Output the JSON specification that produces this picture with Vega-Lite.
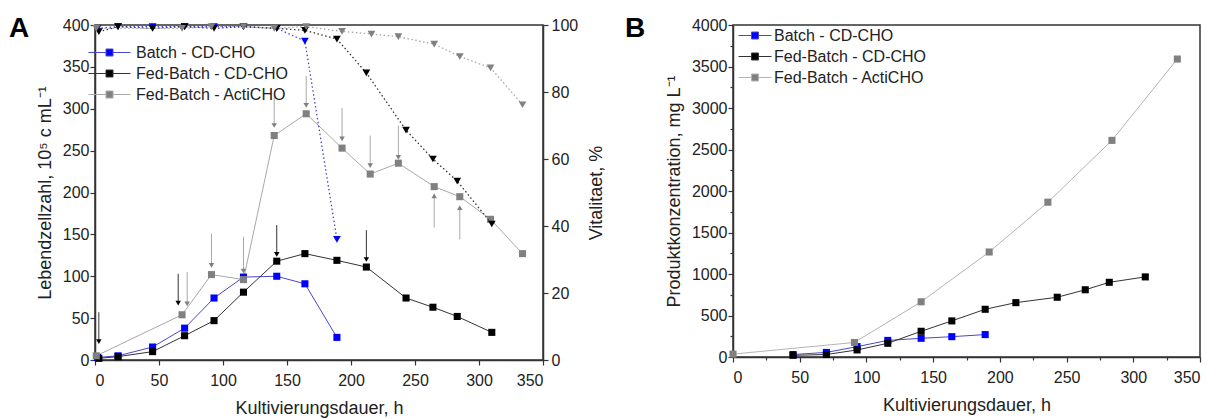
{
  "$schema": "https://vega.github.io/schema/vega-lite/v6.json",
  "background": "white",
  "padding": {"left": 8, "top": 14, "right": 0, "bottom": 0},
  "config": {
    "font": "Liberation Sans",
    "view": {"stroke": "#333", "strokeWidth": 1.5},
    "axis": {"labelFont": "Liberation Sans", "labelFontSize": 16, "labelColor": "#222", "titleFont": "Liberation Sans", "titleFontSize": 18, "titleFontWeight": "normal", "titleColor": "#222", "domainColor": "#333", "domainWidth": 1.5, "tickColor": "#333", "tickWidth": 1.2, "grid": false, "labelPadding": 1, "format": "d"},
    "axisX": {"labelPadding": 7},
    "title": {"font": "Liberation Sans", "fontSize": 28, "fontWeight": "bold", "color": "#000", "anchor": "start", "frame": "group"}
  },
  "datasets": {
    "cells": [
      {"t": 2, "v": 3, "series": "Batch - CD-CHO"},
      {"t": 18, "v": 5, "series": "Batch - CD-CHO"},
      {"t": 45, "v": 15.5, "series": "Batch - CD-CHO"},
      {"t": 70, "v": 38, "series": "Batch - CD-CHO"},
      {"t": 93, "v": 74, "series": "Batch - CD-CHO"},
      {"t": 116, "v": 99, "series": "Batch - CD-CHO"},
      {"t": 142, "v": 100, "series": "Batch - CD-CHO"},
      {"t": 164, "v": 91, "series": "Batch - CD-CHO"},
      {"t": 189, "v": 27, "series": "Batch - CD-CHO"},
      {"t": 3, "v": 2, "series": "Fed-Batch - CD-CHO"},
      {"t": 18, "v": 4, "series": "Fed-Batch - CD-CHO"},
      {"t": 45, "v": 10, "series": "Fed-Batch - CD-CHO"},
      {"t": 70, "v": 29, "series": "Fed-Batch - CD-CHO"},
      {"t": 93, "v": 47, "series": "Fed-Batch - CD-CHO"},
      {"t": 116, "v": 81, "series": "Fed-Batch - CD-CHO"},
      {"t": 142, "v": 118, "series": "Fed-Batch - CD-CHO"},
      {"t": 164, "v": 127, "series": "Fed-Batch - CD-CHO"},
      {"t": 189, "v": 119, "series": "Fed-Batch - CD-CHO"},
      {"t": 212, "v": 111, "series": "Fed-Batch - CD-CHO"},
      {"t": 243, "v": 74, "series": "Fed-Batch - CD-CHO"},
      {"t": 264, "v": 63, "series": "Fed-Batch - CD-CHO"},
      {"t": 283, "v": 52, "series": "Fed-Batch - CD-CHO"},
      {"t": 310, "v": 33, "series": "Fed-Batch - CD-CHO"},
      {"t": 1, "v": 5, "series": "Fed-Batch - ActiCHO"},
      {"t": 68, "v": 54, "series": "Fed-Batch - ActiCHO"},
      {"t": 91, "v": 102, "series": "Fed-Batch - ActiCHO"},
      {"t": 116, "v": 96, "series": "Fed-Batch - ActiCHO"},
      {"t": 140, "v": 268, "series": "Fed-Batch - ActiCHO"},
      {"t": 165, "v": 294, "series": "Fed-Batch - ActiCHO"},
      {"t": 193, "v": 253, "series": "Fed-Batch - ActiCHO"},
      {"t": 215, "v": 222, "series": "Fed-Batch - ActiCHO"},
      {"t": 237, "v": 235, "series": "Fed-Batch - ActiCHO"},
      {"t": 265, "v": 207, "series": "Fed-Batch - ActiCHO"},
      {"t": 285, "v": 195, "series": "Fed-Batch - ActiCHO"},
      {"t": 309, "v": 168, "series": "Fed-Batch - ActiCHO"},
      {"t": 334, "v": 127, "series": "Fed-Batch - ActiCHO"}
    ],
    "vital": [
      {"t": 2, "p": 99, "series": "Batch - CD-CHO"},
      {"t": 18, "p": 99.5, "series": "Batch - CD-CHO"},
      {"t": 45, "p": 99.5, "series": "Batch - CD-CHO"},
      {"t": 70, "p": 99.5, "series": "Batch - CD-CHO"},
      {"t": 93, "p": 99.5, "series": "Batch - CD-CHO"},
      {"t": 116, "p": 99.5, "series": "Batch - CD-CHO"},
      {"t": 142, "p": 99, "series": "Batch - CD-CHO"},
      {"t": 164, "p": 95.2, "series": "Batch - CD-CHO"},
      {"t": 189, "p": 36, "series": "Batch - CD-CHO"},
      {"t": 3, "p": 98, "series": "Fed-Batch - CD-CHO"},
      {"t": 18, "p": 99.5, "series": "Fed-Batch - CD-CHO"},
      {"t": 45, "p": 99, "series": "Fed-Batch - CD-CHO"},
      {"t": 70, "p": 99.5, "series": "Fed-Batch - CD-CHO"},
      {"t": 93, "p": 99, "series": "Fed-Batch - CD-CHO"},
      {"t": 116, "p": 99.5, "series": "Fed-Batch - CD-CHO"},
      {"t": 142, "p": 99, "series": "Fed-Batch - CD-CHO"},
      {"t": 164, "p": 98.4, "series": "Fed-Batch - CD-CHO"},
      {"t": 189, "p": 95.8, "series": "Fed-Batch - CD-CHO"},
      {"t": 212, "p": 85.7, "series": "Fed-Batch - CD-CHO"},
      {"t": 243, "p": 68.6, "series": "Fed-Batch - CD-CHO"},
      {"t": 264, "p": 60, "series": "Fed-Batch - CD-CHO"},
      {"t": 283, "p": 53.4, "series": "Fed-Batch - CD-CHO"},
      {"t": 310, "p": 40.6, "series": "Fed-Batch - CD-CHO"},
      {"t": 1, "p": 99, "series": "Fed-Batch - ActiCHO"},
      {"t": 68, "p": 99, "series": "Fed-Batch - ActiCHO"},
      {"t": 91, "p": 99.5, "series": "Fed-Batch - ActiCHO"},
      {"t": 116, "p": 99.5, "series": "Fed-Batch - ActiCHO"},
      {"t": 140, "p": 99, "series": "Fed-Batch - ActiCHO"},
      {"t": 165, "p": 99.5, "series": "Fed-Batch - ActiCHO"},
      {"t": 193, "p": 98.1, "series": "Fed-Batch - ActiCHO"},
      {"t": 216, "p": 97.3, "series": "Fed-Batch - ActiCHO"},
      {"t": 237, "p": 96.5, "series": "Fed-Batch - ActiCHO"},
      {"t": 265, "p": 94.3, "series": "Fed-Batch - ActiCHO"},
      {"t": 285, "p": 90.6, "series": "Fed-Batch - ActiCHO"},
      {"t": 309, "p": 87.2, "series": "Fed-Batch - ActiCHO"},
      {"t": 334, "p": 76.2, "series": "Fed-Batch - ActiCHO"}
    ],
    "arrows": [
      {"t": 3, "v1": 57, "v2": 22, "dir": "down", "series": "Fed-Batch - CD-CHO"},
      {"t": 65, "v1": 103, "v2": 68, "dir": "down", "series": "Fed-Batch - CD-CHO"},
      {"t": 142, "v1": 161, "v2": 126, "dir": "down", "series": "Fed-Batch - CD-CHO"},
      {"t": 212, "v1": 155, "v2": 120, "dir": "down", "series": "Fed-Batch - CD-CHO"},
      {"t": 72, "v1": 105, "v2": 67, "dir": "down", "series": "Fed-Batch - ActiCHO"},
      {"t": 91, "v1": 151, "v2": 113, "dir": "down", "series": "Fed-Batch - ActiCHO"},
      {"t": 116, "v1": 147, "v2": 106, "dir": "down", "series": "Fed-Batch - ActiCHO"},
      {"t": 140, "v1": 315, "v2": 280, "dir": "down", "series": "Fed-Batch - ActiCHO"},
      {"t": 165, "v1": 339, "v2": 304, "dir": "down", "series": "Fed-Batch - ActiCHO"},
      {"t": 193, "v1": 301, "v2": 264, "dir": "down", "series": "Fed-Batch - ActiCHO"},
      {"t": 215, "v1": 268, "v2": 232, "dir": "down", "series": "Fed-Batch - ActiCHO"},
      {"t": 237, "v1": 280, "v2": 242, "dir": "down", "series": "Fed-Batch - ActiCHO"},
      {"t": 265, "v1": 158, "v2": 196, "dir": "up", "series": "Fed-Batch - ActiCHO"},
      {"t": 285, "v1": 144, "v2": 182, "dir": "up", "series": "Fed-Batch - ActiCHO"}
    ],
    "product": [
      {"t": 45, "c": 30, "series": "Batch - CD-CHO"},
      {"t": 70, "c": 55, "series": "Batch - CD-CHO"},
      {"t": 93, "c": 125, "series": "Batch - CD-CHO"},
      {"t": 116, "c": 200, "series": "Batch - CD-CHO"},
      {"t": 141, "c": 225, "series": "Batch - CD-CHO"},
      {"t": 164, "c": 245, "series": "Batch - CD-CHO"},
      {"t": 189, "c": 270, "series": "Batch - CD-CHO"},
      {"t": 45, "c": 20, "series": "Fed-Batch - CD-CHO"},
      {"t": 70, "c": 30, "series": "Fed-Batch - CD-CHO"},
      {"t": 93, "c": 85, "series": "Fed-Batch - CD-CHO"},
      {"t": 116, "c": 165, "series": "Fed-Batch - CD-CHO"},
      {"t": 141, "c": 310, "series": "Fed-Batch - CD-CHO"},
      {"t": 164, "c": 435, "series": "Fed-Batch - CD-CHO"},
      {"t": 189, "c": 575, "series": "Fed-Batch - CD-CHO"},
      {"t": 212, "c": 655, "series": "Fed-Batch - CD-CHO"},
      {"t": 243, "c": 720, "series": "Fed-Batch - CD-CHO"},
      {"t": 264, "c": 810, "series": "Fed-Batch - CD-CHO"},
      {"t": 282, "c": 900, "series": "Fed-Batch - CD-CHO"},
      {"t": 309, "c": 965, "series": "Fed-Batch - CD-CHO"},
      {"t": 0, "c": 35, "series": "Fed-Batch - ActiCHO"},
      {"t": 91, "c": 175, "series": "Fed-Batch - ActiCHO"},
      {"t": 141, "c": 665, "series": "Fed-Batch - ActiCHO"},
      {"t": 192, "c": 1265, "series": "Fed-Batch - ActiCHO"},
      {"t": 236, "c": 1865, "series": "Fed-Batch - ActiCHO"},
      {"t": 284, "c": 2610, "series": "Fed-Batch - ActiCHO"},
      {"t": 333, "c": 3590, "series": "Fed-Batch - ActiCHO"}
    ]
  },
  "columns": 2,
  "align": "none",
  "spacing": 17,
  "resolve": {
    "scale": {"x": "independent", "y": "independent", "fill": "independent", "stroke": "independent", "shape": "independent"},
    "legend": {"fill": "independent", "stroke": "independent"}
  },
  "concat": [
    {
      "width": 448,
      "height": 335,
      "title": {"text": "A", "dx": -86, "dy": 30},
      "layer": [
        {
          "layer": [
            {
              "data": {"name": "cells"},
              "mark": {"type": "line", "strokeWidth": 1},
              "encoding": {
                "x": {"field": "t", "type": "quantitative", "scale": {"domain": [0, 350], "nice": false},
                  "axis": {"title": "Kultivierungsdauer, h", "values": [0,25,50,75,100,125,150,175,200,225,250,275,300,325,350], "labelExpr": "datum.value % 50 === 0 ? datum.label : ''", "tickSize": {"condition": {"test": "datum.value % 50 === 0", "value": 5}, "value": 3}, "titlePadding": 11}},
                "y": {"field": "v", "type": "quantitative", "scale": {"domain": [0, 400], "nice": false},
                  "axis": {"orient": "left", "title": "Lebendzellzahl, 10⁵ c mL⁻¹", "values": [0,25,50,75,100,125,150,175,200,225,250,275,300,325,350,375,400], "labelExpr": "datum.value % 50 === 0 ? datum.label : ''", "tickSize": {"condition": {"test": "datum.value % 50 === 0", "value": 5}, "value": 3}, "titlePadding": 8}},
                "stroke": {"field": "series", "type": "nominal",
                  "scale": {"domain": ["Batch - CD-CHO", "Fed-Batch - CD-CHO", "Fed-Batch - ActiCHO"], "range": ["#4848c8", "#333333", "#a8a8a8"]}},
                "order": {"field": "t"}
              }
            },
            {
              "data": {"name": "arrows"},
              "mark": {"type": "rule", "strokeWidth": 1},
              "encoding": {
                "x": {"field": "t", "type": "quantitative"},
                "y": {"field": "v1", "type": "quantitative"},
                "y2": {"field": "v2"},
                "stroke": {"field": "series", "type": "nominal"}
              }
            },
            {
              "data": {"name": "arrows"},
              "mark": {"type": "point", "filled": true, "size": 30, "opacity": 1, "strokeWidth": 0},
              "encoding": {
                "x": {"field": "t", "type": "quantitative"},
                "y": {"field": "v2", "type": "quantitative"},
                "shape": {"field": "dir", "type": "nominal", "legend": null, "scale": {"domain": ["down", "up"], "range": ["triangle-down", "triangle-up"]}},
                "fill": {"field": "series", "type": "nominal"}
              }
            },
            {
              "data": {"name": "cells"},
              "mark": {"type": "point", "shape": "square", "filled": true, "size": 50, "opacity": 1, "strokeWidth": 0.8},
              "encoding": {
                "x": {"field": "t", "type": "quantitative"},
                "y": {"field": "v", "type": "quantitative"},
                "fill": {"field": "series", "type": "nominal",
                  "scale": {"domain": ["Batch - CD-CHO", "Fed-Batch - CD-CHO", "Fed-Batch - ActiCHO"], "range": ["#0000ff", "#000000", "#808080"]},
                  "legend": {"orient": "none", "legendX": 1.5, "legendY": 14.5, "title": null, "padding": 0, "symbolType": "M-1.68,0L-0.28,0M0.28,0L1.68,0M-0.28,-0.28L0.28,-0.28L0.28,0.28L-0.28,0.28Z", "symbolSize": 625, "symbolStrokeWidth": 1, "labelFont": "Liberation Sans", "labelFontSize": 16, "labelColor": "#222", "rowPadding": 0, "labelOffset": 13.5}}
              }
            }
          ]
        },
        {
          "layer": [
            {
              "data": {"name": "vital"},
              "mark": {"type": "line", "strokeWidth": 1.3, "strokeDash": [1.5, 2.5]},
              "encoding": {
                "x": {"field": "t", "type": "quantitative"},
                "y": {"field": "p", "type": "quantitative", "scale": {"domain": [0, 100], "nice": false},
                  "axis": {"orient": "right", "title": "Vitalitaet, %", "titleAngle": 270, "titleBaseline": "top", "values": [0,10,20,30,40,50,60,70,80,90,100], "labelExpr": "datum.value % 20 === 0 ? datum.label : ''", "tickSize": {"condition": {"test": "datum.value % 20 === 0", "value": 5}, "value": 3}, "labelPadding": 3, "titlePadding": 10}},
                "stroke": {"field": "series", "type": "nominal"},
                "order": {"field": "t"}
              }
            },
            {
              "data": {"name": "vital"},
              "mark": {"type": "point", "shape": "triangle-down", "filled": true, "size": 60, "opacity": 1, "strokeWidth": 0},
              "encoding": {
                "x": {"field": "t", "type": "quantitative"},
                "y": {"field": "p", "type": "quantitative"},
                "fill": {"field": "series", "type": "nominal"}
              }
            }
          ]
        }
      ],
      "resolve": {"scale": {"y": "independent"}}
    },
    {
      "width": 467,
      "height": 332,
      "title": {"text": "B", "dx": -108, "dy": 30},
      "data": {"name": "product"},
      "encoding": {
        "x": {"field": "t", "type": "quantitative", "scale": {"domain": [0, 350], "nice": false},
          "axis": {"title": "Kultivierungsdauer, h", "values": [0,25,50,75,100,125,150,175,200,225,250,275,300,325,350], "labelExpr": "datum.value % 50 === 0 ? datum.label : ''", "tickSize": {"condition": {"test": "datum.value % 50 === 0", "value": 5}, "value": 3}, "titlePadding": 11}},
        "y": {"field": "c", "type": "quantitative", "scale": {"domain": [0, 4000], "nice": false},
          "axis": {"title": "Produktkonzentration, mg L⁻¹", "values": [0,250,500,750,1000,1250,1500,1750,2000,2250,2500,2750,3000,3250,3500,3750,4000], "labelExpr": "datum.value % 500 === 0 ? datum.label : ''", "tickSize": {"condition": {"test": "datum.value % 500 === 0", "value": 5}, "value": 3}, "titlePadding": 8}}
      },
      "layer": [
        {
          "mark": {"type": "line", "strokeWidth": 1},
          "encoding": {
            "stroke": {"field": "series", "type": "nominal",
              "scale": {"domain": ["Batch - CD-CHO", "Fed-Batch - CD-CHO", "Fed-Batch - ActiCHO"], "range": ["#4848c8", "#333333", "#b4b4b4"]}},
            "order": {"field": "t"}
          }
        },
        {
          "mark": {"type": "point", "shape": "square", "filled": true, "size": 50, "opacity": 1, "strokeWidth": 0.8},
          "encoding": {
            "fill": {"field": "series", "type": "nominal",
              "scale": {"domain": ["Batch - CD-CHO", "Fed-Batch - CD-CHO", "Fed-Batch - ActiCHO"], "range": ["#0000ff", "#000000", "#808080"]},
              "legend": {"orient": "none", "legendX": 9, "legendY": -2.5, "title": null, "padding": 0, "symbolType": "M-1.32,0L-0.28,0M0.28,0L1.32,0M-0.28,-0.28L0.28,-0.28L0.28,0.28L-0.28,0.28Z", "symbolSize": 625, "symbolStrokeWidth": 1, "labelFont": "Liberation Sans", "labelFontSize": 16, "labelColor": "#222", "rowPadding": 0, "labelOffset": 6}}
          }
        }
      ]
    }
  ]
}
